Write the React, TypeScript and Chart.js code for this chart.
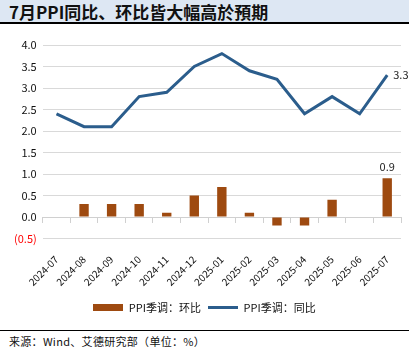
import React, { useEffect, useRef } from "react";
import { Chart, registerables } from "chart.js";

Chart.register(...registerables);

const categories = [
  "2024-07", "2024-08", "2024-09", "2024-10", "2024-11", "2024-12",
  "2025-01", "2025-02", "2025-03", "2025-04", "2025-05", "2025-06", "2025-07",
];
const momValues = [0.0, 0.3, 0.3, 0.3, 0.1, 0.5, 0.7, 0.1, -0.2, -0.2, 0.4, 0.0, 0.9];
const yoyValues = [2.4, 2.1, 2.1, 2.8, 2.9, 3.5, 3.8, 3.4, 3.2, 2.4, 2.8, 2.4, 3.3];
const yTicks = [-0.5, 0, 0.5, 1, 1.5, 2, 2.5, 3, 3.5, 4];

const BAR_COLOR = "#9e4a10";
const LINE_COLOR = "#2b5d8c";
const FONT = "'Noto Sans CJK SC', 'Noto Sans', sans-serif";

function makeSwatch(w: number, h: number, color: string) {
  const c = document.createElement("canvas");
  c.width = w;
  c.height = h;
  const ctx = c.getContext("2d")!;
  ctx.fillStyle = color;
  ctx.fillRect(0, 0, w, h);
  return c;
}

const labelPlugin = {
  id: "endLabels",
  afterDatasetsDraw(chart: any) {
    const ctx = chart.ctx;
    ctx.save();
    ctx.font = "11px " + FONT;
    ctx.fillStyle = "#222";
    const lineMeta = chart.getDatasetMeta(1);
    const lp = lineMeta.data[lineMeta.data.length - 1];
    ctx.textAlign = "left";
    ctx.textBaseline = "middle";
    ctx.fillText(yoyValues[yoyValues.length - 1].toFixed(1), lp.x + 6, lp.y);
    const barMeta = chart.getDatasetMeta(0);
    const bp = barMeta.data[barMeta.data.length - 1];
    ctx.textAlign = "center";
    ctx.textBaseline = "bottom";
    ctx.fillText(momValues[momValues.length - 1].toFixed(1), bp.x, bp.y - 6);
    ctx.restore();
  },
};

export default function App() {
  const ref = useRef<HTMLCanvasElement>(null);
  useEffect(() => {
    document.body.style.margin = "0";
    const barSwatch = makeSwatch(30, 7, BAR_COLOR);
    const lineSwatch = makeSwatch(30, 3, LINE_COLOR);
    const chart = new Chart(ref.current!, {
      type: "bar",
      data: {
        labels: categories,
        datasets: [
          {
            type: "bar",
            label: "PPI季调：环比",
            data: momValues,
            backgroundColor: BAR_COLOR,
            barPercentage: 0.34,
            categoryPercentage: 1,
            pointStyle: barSwatch as any,
            order: 2,
          },
          {
            type: "line",
            label: "PPI季调：同比",
            data: yoyValues,
            borderColor: LINE_COLOR,
            backgroundColor: LINE_COLOR,
            borderWidth: 3,
            pointRadius: 0,
            pointHoverRadius: 0,
            tension: 0,
            pointStyle: lineSwatch as any,
            order: 1,
          },
        ] as any,
      },
      options: {
        animation: false,
        responsive: true,
        maintainAspectRatio: false,
        layout: { padding: { left: 8, right: 10, top: 18, bottom: 0 } },
        plugins: {
          legend: {
            position: "bottom",
            labels: {
              usePointStyle: true,
              pointStyleWidth: 30,
              font: { size: 11, family: FONT },
              color: "#111",
              padding: 7,
              sort: (a: any, b: any) => a.datasetIndex - b.datasetIndex,
            },
          },
          tooltip: { enabled: false },
        },
        scales: {
          x: {
            type: "category",
            position: { y: 0 } as any,
            offset: true,
            ticks: { display: false },
            grid: {
              display: true,
              drawOnChartArea: false,
              drawTicks: true,
              tickLength: 5,
              offset: true,
              color: "#d0d0d0",
            },
            border: { display: true, color: "#d0d0d0" },
          },
          x2: {
            type: "category",
            position: "bottom",
            offset: true,
            labels: categories,
            grid: { display: false },
            border: { display: false },
            ticks: {
              maxRotation: 45,
              minRotation: 45,
              font: { size: 10, family: FONT },
              color: "#111",
              padding: 7,
            },
          },
          y: {
            min: -0.5,
            max: 4,
            afterBuildTicks(axis: any) {
              axis.ticks = yTicks.map((v) => ({ value: v }));
            },
            ticks: {
              font: { size: 11, family: FONT },
              color: (c: any) => (c.tick.value < 0 ? "#ff0000" : "#111"),
              callback: (v: any) => {
                const n = Number(v);
                return n < 0 ? "(" + Math.abs(n).toFixed(1) + ")" : n.toFixed(1);
              },
              padding: 6,
            },
            grid: { color: "#d9d9d9", drawTicks: false },
            border: { display: false },
          },
        },
      },
      plugins: [labelPlugin],
    });
    return () => chart.destroy();
  }, []);

  return (
    <div style={{ width: 411, height: 353, position: "relative", background: "#fff", fontFamily: FONT }}>
      <div
        style={{
          position: "absolute",
          left: 0,
          top: 0,
          width: 409,
          height: 24,
          background: "#dde7f3",
          borderBottom: "2px solid #000",
          fontWeight: 700,
          fontSize: 17,
          lineHeight: "23px",
          paddingLeft: 9,
          boxSizing: "border-box",
          color: "#111",
        }}
      >
        7月PPI同比、环比皆大幅高於預期
      </div>
      <div style={{ position: "absolute", left: 0, top: 27, width: 411, height: 296 }}>
        <canvas ref={ref} />
      </div>
      <div
        style={{
          position: "absolute",
          left: 0,
          top: 330,
          width: 409,
          borderTop: "1px solid #000",
          fontSize: 11,
          letterSpacing: "0.3px",
          lineHeight: "20px",
          paddingLeft: 9,
          boxSizing: "border-box",
          color: "#111",
        }}
      >
        来源：Wind、艾德研究部（单位：%）
      </div>
    </div>
  );
}
